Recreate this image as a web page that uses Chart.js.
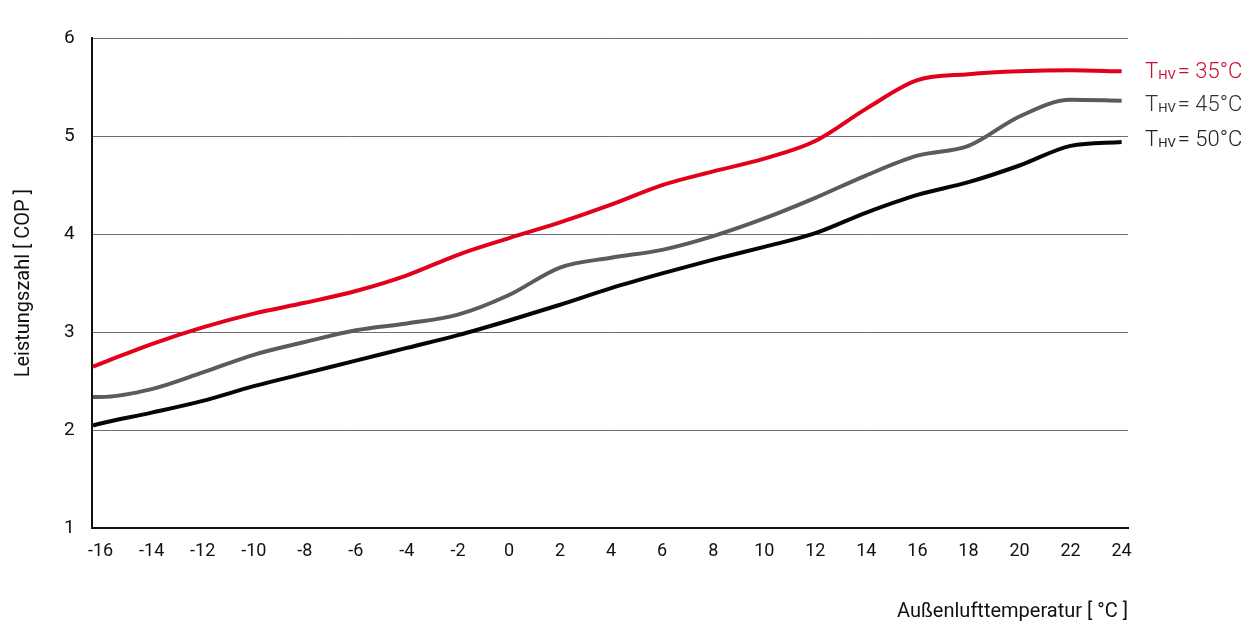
<!DOCTYPE html>
<html lang="de">
<head>
<meta charset="utf-8">
<title>Leistungszahl COP</title>
<script src="https://cdn.jsdelivr.net/npm/chart.js@4.4.1/dist/chart.umd.min.js"></script>
<style>
    html, body { margin: 0; padding: 0; background: #ffffff; }
    #wrap { width: 1257px; height: 626px; position: relative; }
</style>
</head>
<body>
<div id="wrap"><canvas id="copChart"></canvas></div>
<script>
/* ========================================
   COP-DIAGRAMM - DATEN
======================================== */

// Außenlufttemperatur [°C]
const temperaturen = [-16.3, -16, -14, -12, -10, -8, -6, -4, -2, 0, 2, 4, 6, 8, 10, 12, 14, 16, 18, 20, 22, 24];

// Leistungszahl je Vorlauftemperatur
const cop35 = [2.65, 2.68, 2.88, 3.05, 3.19, 3.30, 3.42, 3.58, 3.79, 3.96, 4.12, 4.30, 4.50, 4.64, 4.77, 4.95, 5.28, 5.57, 5.63, 5.66, 5.67, 5.66];
const cop45 = [2.34, 2.34, 2.42, 2.59, 2.77, 2.90, 3.02, 3.09, 3.18, 3.38, 3.66, 3.76, 3.84, 3.98, 4.16, 4.37, 4.60, 4.80, 4.90, 5.20, 5.37, 5.36];
const cop50 = [2.05, 2.07, 2.18, 2.30, 2.45, 2.58, 2.71, 2.84, 2.97, 3.12, 3.28, 3.45, 3.60, 3.74, 3.87, 4.01, 4.22, 4.40, 4.53, 4.70, 4.90, 4.94];

// Achsbeschriftungen
const xTicks = [-16, -14, -12, -10, -8, -6, -4, -2, 0, 2, 4, 6, 8, 10, 12, 14, 16, 18, 20, 22, 24];
const yTicks = [1, 2, 3, 4, 5, 6];
const reihen = ['35°C', '45°C', '50°C'];

const FONT = 'Roboto, "Open Sans", sans-serif';

// ========================================
// HILFSFUNKTIONEN
// ========================================

function punkte(werte) {
    return werte.map((v, i) => ({ x: temperaturen[i], y: v }));
}

function dataset(label, werte, farbe) {
    return {
        label: label,
        data: punkte(werte),
        borderColor: farbe,
        backgroundColor: farbe,
        borderWidth: 4,
        pointRadius: 0,
        tension: 0.4,
        cubicInterpolationMode: 'monotone',
        fill: false
    };
}

// Beschriftung "THV = xx°C" am Linienende
const endLabels = {
    id: 'endLabels',
    afterDatasetsDraw(chart) {
        const ctx = chart.ctx;
        ctx.save();
        ctx.textBaseline = 'middle';
        const versatz = [1, 5, -1];
        chart.data.datasets.forEach((ds, i) => {
            const meta = chart.getDatasetMeta(i);
            const last = meta.data[meta.data.length - 1];
            let x = chart.chartArea.right + 17;
            const y = last.y + versatz[i];
            ctx.fillStyle = ds.labelColor;
            ctx.font = '300 22px ' + FONT;
            ctx.fillText('T', x, y);
            x += ctx.measureText('T').width;
            ctx.font = '400 13px ' + FONT;
            ctx.fillText('HV', x, y + 3);
            x += ctx.measureText('HV').width + 2;
            ctx.font = '300 22px ' + FONT;
            ctx.fillText('= ' + reihen[i], x, y);
        });
        ctx.restore();
    }
};

// ========================================
// DIAGRAMM
// ========================================

function initializeChart() {
    const ctx = document.getElementById('copChart');

    const ds35 = dataset('THV = 35°C', cop35, '#e2001a');
    ds35.labelColor = '#c8102e';
    const ds45 = dataset('THV = 45°C', cop45, '#5b5b5b');
    ds45.labelColor = '#333333';
    const ds50 = dataset('THV = 50°C', cop50, '#050505');
    ds50.labelColor = '#222222';

    new Chart(ctx, {
        type: 'line',
        data: { datasets: [ds35, ds45, ds50] },
        plugins: [endLabels],
        options: {
            responsive: true,
            maintainAspectRatio: false,
            animation: false,
            layout: {
                padding: { top: 38, right: 129, left: 12, bottom: 2 }
            },
            plugins: {
                legend: { display: false },
                tooltip: { enabled: false }
            },
            scales: {
                x: {
                    type: 'linear',
                    min: -16.35,
                    max: 24.25,
                    afterBuildTicks: (scale) => {
                        scale.ticks = xTicks.map(v => ({ value: v }));
                    },
                    grid: { display: false, drawTicks: false },
                    border: { display: true, color: '#111', width: 2 },
                    ticks: {
                        color: '#111',
                        padding: 12,
                        font: { family: FONT, size: 18 },
                        maxRotation: 0
                    },
                    title: {
                        display: true,
                        text: 'Außenlufttemperatur [ °C ]',
                        align: 'end',
                        color: '#111',
                        padding: { top: 26, bottom: 0 },
                        font: { family: FONT, size: 20 }
                    }
                },
                y: {
                    type: 'linear',
                    min: 1,
                    max: 6,
                    afterBuildTicks: (scale) => {
                        scale.ticks = yTicks.map(v => ({ value: v }));
                    },
                    grid: {
                        drawTicks: false,
                        color: (c) => c.tick && c.tick.value === 1 ? 'rgba(0,0,0,0)' : '#6e6e6e',
                        lineWidth: 1
                    },
                    border: { display: true, color: '#111', width: 2 },
                    ticks: {
                        color: '#111',
                        padding: 17,
                        font: { family: FONT, size: 19 }
                    },
                    title: {
                        display: true,
                        text: 'Leistungszahl [ COP ]',
                        color: '#111',
                        padding: { top: 0, bottom: 11 },
                        font: { family: FONT, size: 20 }
                    }
                }
            }
        }
    });
}

document.addEventListener('DOMContentLoaded', function() {
    initializeChart();
});
</script>
</body>
</html>
